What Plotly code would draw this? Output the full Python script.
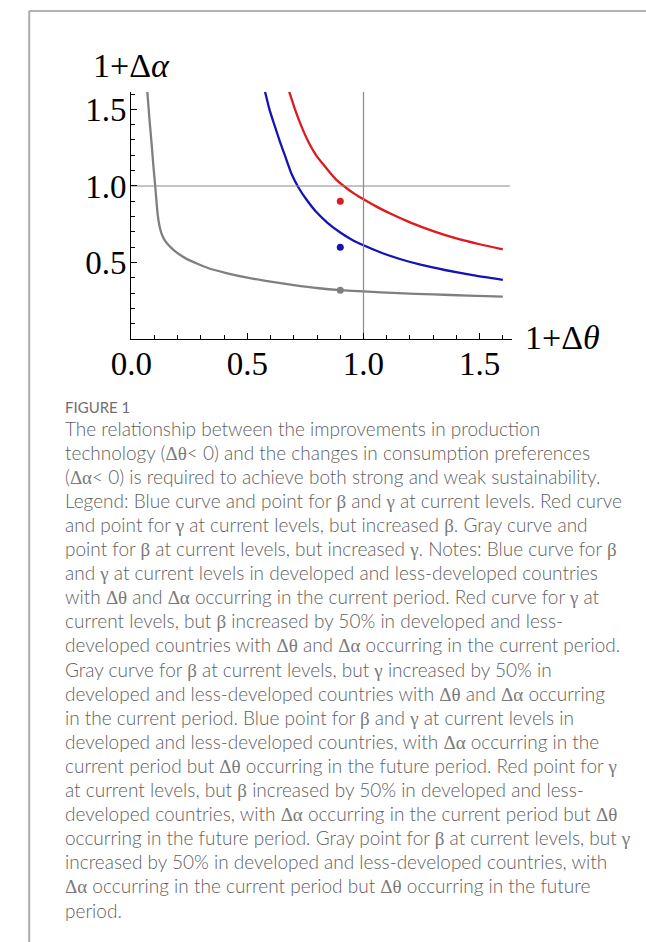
import plotly.graph_objects as go

# ---- curve data: (1+Δθ, 1+Δα) pairs ----
blue_x = [0.576, 0.595, 0.617, 0.640, 0.665, 0.690, 0.720, 0.755, 0.794, 0.845, 0.900,
          0.950, 1.000, 1.080, 1.160, 1.250, 1.350, 1.470, 1.600]
blue_y = [1.615, 1.500, 1.395, 1.290, 1.185, 1.080, 0.990, 0.910, 0.835, 0.760, 0.697,
          0.650, 0.613, 0.563, 0.522, 0.485, 0.452, 0.418, 0.387]

red_x = [0.680, 0.705, 0.732, 0.762, 0.794, 0.835, 0.880, 0.915, 0.960, 1.000, 1.060,
         1.120, 1.200, 1.300, 1.400, 1.500, 1.600]
red_y = [1.615, 1.500, 1.392, 1.290, 1.205, 1.125, 1.045, 1.000, 0.950, 0.913, 0.862,
         0.817, 0.763, 0.706, 0.658, 0.620, 0.587]

gray_x = [0.069, 0.078, 0.087, 0.095, 0.103, 0.109, 0.114, 0.120, 0.127, 0.135, 0.145,
          0.157, 0.170, 0.188, 0.211, 0.240, 0.274, 0.330, 0.405, 0.500, 0.600, 0.700,
          0.808, 0.900, 1.000, 1.150, 1.300, 1.450, 1.600]
gray_y = [1.615, 1.440, 1.285, 1.135, 1.000, 0.890, 0.810, 0.750, 0.705, 0.672, 0.643,
          0.620, 0.600, 0.575, 0.550, 0.523, 0.500, 0.465, 0.434, 0.402, 0.376, 0.353,
          0.333, 0.321, 0.312, 0.301, 0.293, 0.285, 0.278]

# ---- single points (Δθ in the future period) ----
point_x = [0.9, 0.9, 0.9]
point_y = [0.6, 0.9, 0.32]
point_colors = ["#1414b4", "#e0191e", "#7f7f7f"]

ref_theta = 1.0
ref_alpha = 1.0

x_ticks = [0.0, 0.5, 1.0, 1.5]
x_ticktext = ["0.0", "0.5", "1.0", "1.5"]
y_ticks = [0.5, 1.0, 1.5]
y_ticktext = ["0.5", "1.0", "1.5"]

x_range = [0, 1.64]
y_range = [0, 1.615]

caption_title = "FIGURE 1"
G = '<span style="font-family:Liberation Serif;color:#7a7a7a">{}</span>'
dt = G.format("Δθ")
da = G.format("Δα")
b = G.format("β")
g = G.format("γ")
caption_lines = [
    "The relationship between the improvements in production",
    f"technology ({dt}&lt; 0) and the changes in consumption preferences",
    f"({da}&lt; 0) is required to achieve both strong and weak sustainability.",
    f"Legend: Blue curve and point for {b} and {g} at current levels. Red curve",
    f"and point for {g} at current levels, but increased {b}. Gray curve and",
    f"point for {b} at current levels, but increased {g}. Notes: Blue curve for {b}",
    f"and {g} at current levels in developed and less-developed countries",
    f"with {dt} and {da} occurring in the current period. Red curve for {g} at",
    f"current levels, but {b} increased by 50% in developed and less-",
    f"developed countries with {dt} and {da} occurring in the current period.",
    f"Gray curve for {b} at current levels, but {g} increased by 50% in",
    f"developed and less-developed countries with {dt} and {da} occurring",
    f"in the current period. Blue point for {b} and {g} at current levels in",
    f"developed and less-developed countries, with {da} occurring in the",
    f"current period but {dt} occurring in the future period. Red point for {g}",
    f"at current levels, but {b} increased by 50% in developed and less-",
    f"developed countries, with {da} occurring in the current period but {dt}",
    f"occurring in the future period. Gray point for {b} at current levels, but {g}",
    f"increased by 50% in developed and less-developed countries, with",
    f"{da} occurring in the current period but {dt} occurring in the future",
    "period.",
]

W, H = 646, 942


def px(xpix):
    return xpix / W


def py(ypix):
    return 1 - ypix / H


fig = go.Figure()

for xs, ys, col in [(gray_x, gray_y, "#7f7f7f"),
                    (blue_x, blue_y, "#1414b4"),
                    (red_x, red_y, "#e0191e")]:
    fig.add_trace(go.Scatter(x=xs, y=ys, mode="lines",
                             line=dict(color=col, width=2.3, shape="spline", smoothing=0.6),
                             hoverinfo="skip", showlegend=False))

# cross-hair at 1+Δθ = 1 and 1+Δα = 1
fig.add_trace(go.Scatter(x=[x_range[0], 1.63], y=[ref_alpha, ref_alpha], mode="lines",
                         line=dict(color="#8a8a8a", width=1.2), showlegend=False, hoverinfo="skip"))
fig.add_trace(go.Scatter(x=[ref_theta, ref_theta], y=y_range, mode="lines",
                         line=dict(color="#8a8a8a", width=1.2), showlegend=False, hoverinfo="skip"))

fig.add_trace(go.Scatter(x=point_x, y=point_y, mode="markers",
                         marker=dict(color=point_colors, size=7),
                         showlegend=False, hoverinfo="skip"))

tick_font = dict(family="Liberation Serif", size=33, color="black")
minor = dict(tickmode="linear", tick0=0, dtick=0.1, ticks="inside",
             ticklen=4, tickwidth=1, tickcolor="black")

fig.update_xaxes(domain=[px(114), px(114 + 1.64 * 240)], range=x_range,
                 showline=True, linecolor="black", linewidth=1.2,
                 showgrid=False, zeroline=False,
                 tickmode="array", tickvals=x_ticks, ticktext=x_ticktext,
                 ticks="inside", ticklen=6, tickwidth=1, tickcolor="black",
                 minor=minor, tickfont=tick_font, ticklabelstandoff=-5)
fig.update_yaxes(domain=[py(339.3), py(91.7)], range=y_range,
                 showline=True, linecolor="black", linewidth=1.2,
                 showgrid=False, zeroline=False,
                 tickmode="array", tickvals=y_ticks, ticktext=y_ticktext,
                 ticks="inside", ticklen=6, tickwidth=1, tickcolor="black",
                 minor=minor, tickfont=tick_font, ticklabelstandoff=-3)

annotations = [
    dict(text="1+Δ<i>α</i>", x=px(72), y=py(66), xref="paper", yref="paper",
         xanchor="left", yanchor="middle", showarrow=False,
         font=dict(family="Liberation Serif", size=34, color="black")),
    dict(text="1+Δ<i>θ</i>", x=px(519), y=py(338), xref="paper", yref="paper",
         xanchor="left", yanchor="middle", showarrow=False,
         font=dict(family="Liberation Serif", size=34, color="black")),
    dict(text=caption_title, x=px(43), y=py(407), xref="paper", yref="paper",
         xanchor="left", yanchor="middle", showarrow=False,
         font=dict(family="Lato", size=15, color="#6f6f6f")),
]
for i, line in enumerate(caption_lines):
    annotations.append(dict(text=line, x=px(43), y=py(428 + i * 24.1),
                            xref="paper", yref="paper", xanchor="left", yanchor="middle",
                            showarrow=False,
                            font=dict(family="Lato", size=19.0, weight=300, color="#5f5f5f")))

# page frame (top and left rules)
shapes = [
    dict(type="line", xref="paper", yref="paper", x0=px(8.5), x1=1, y0=py(11), y1=py(11),
         line=dict(color="#999999", width=1.5)),
    dict(type="line", xref="paper", yref="paper", x0=px(8.5), x1=px(8.5), y0=py(11), y1=0,
         line=dict(color="#aaaaaa", width=2)),
]

fig.update_layout(width=W, height=H, margin=dict(l=0, r=0, t=0, b=0),
                  paper_bgcolor="white", plot_bgcolor="white",
                  annotations=annotations, shapes=shapes, showlegend=False)

fig.write_html("out.html")
